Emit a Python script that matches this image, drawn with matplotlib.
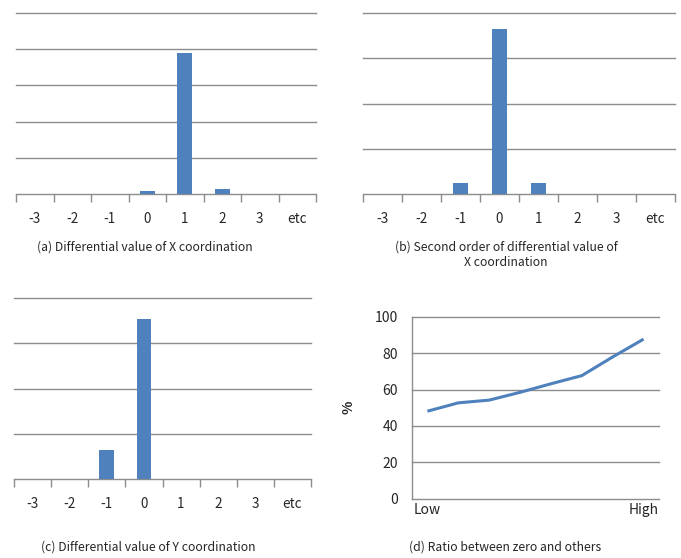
import numpy as np
import matplotlib
matplotlib.use("Agg")
import matplotlib.pyplot as plt
from matplotlib.ticker import FixedLocator

plt.rcParams['font.family'] = ['Noto Sans CJK KR', 'DejaVu Sans']

# Category axis shared by the three histograms
categories = ["-3", "-2", "-1", "0", "1", "2", "3", "etc"]

# (a) differential value of X coordination (percent)
diff_x = [0, 0, 0, 1.8, 78, 2.6, 0, 0]
# (b) second order differential value of X coordination (percent)
diff2_x = [0, 0, 4.7, 72.9, 4.7, 0, 0, 0]
# (c) differential value of Y coordination (percent)
diff_y = [0, 0, 12.7, 70.7, 0, 0, 0, 0]

# (d) ratio between zero and others (percent)
ratio_levels = ["Low", "", "", "", "", "", "", "High"]
ratio_values = [48.1, 52.7, 54.2, 58.5, 63.2, 67.7, 78.0, 87.8]

W, H = 681, 558
BLUE = "#4F81BD"
GRID = "#8C8C8C"
TEXT = "#262626"
FS = 8.8

fig = plt.figure(figsize=(W / 100, H / 100), dpi=100)


def px_axes(l, t, r, b):
    return fig.add_axes([l / W, 1 - b / H, (r - l) / W, (b - t) / H])


def bar_panel(box, values, ymax, step):
    ax = px_axes(*box)
    x = np.arange(len(categories))
    ax.bar(x, values, width=0.4, color=BLUE, zorder=3)
    ax.set_xlim(-0.5, len(categories) - 0.5)
    ax.set_ylim(0, ymax)
    for v in np.arange(step, ymax + step / 2, step):
        ax.axhline(v, color=GRID, lw=1.0, clip_on=False, zorder=1)
    for s in ("top", "right", "left"):
        ax.spines[s].set_visible(False)
    ax.spines["bottom"].set_color(GRID)
    ax.spines["bottom"].set_linewidth(1.0)
    ax.set_yticks([])
    ax.set_xticks(x)
    ax.set_xticklabels(categories, fontsize=9.7, color=TEXT)
    ax.xaxis.set_minor_locator(FixedLocator(np.arange(-0.5, len(categories), 1.0)))
    ax.tick_params(axis="x", which="major", length=0, pad=13)
    ax.tick_params(axis="x", which="minor", length=6, width=1.0, color=GRID,
                   direction="out")
    ax.set_facecolor("none")
    return ax


bar_panel((16, 13, 316, 194), diff_x, 100, 20)
bar_panel((363, 13, 675, 194), diff2_x, 80, 20)
bar_panel((14, 298, 311, 479), diff_y, 80, 20)

# (d) line chart
ax = px_axes(412, 317, 659, 498.5)
xi = np.arange(len(ratio_values))
ax.plot(xi, ratio_values, color=BLUE, lw=2.2, solid_capstyle="butt", zorder=3)
ax.set_xlim(-0.5, len(ratio_values) - 0.5)
ax.set_ylim(0, 100)
ax.set_yticks(np.arange(0, 101, 20))
ax.set_yticklabels([str(v) for v in range(0, 101, 20)], fontsize=10, color=TEXT)
for v in range(20, 101, 20):
    ax.axhline(v, color=GRID, lw=1.0, clip_on=False, zorder=1)
for s in ("top", "right"):
    ax.spines[s].set_visible(False)
for s in ("left", "bottom"):
    ax.spines[s].set_color(GRID)
    ax.spines[s].set_linewidth(1.0)
ax.tick_params(axis="y", length=0, pad=10)
ax.set_xticks(xi)
ax.set_xticklabels(ratio_levels, fontsize=10, color=TEXT)
ax.tick_params(axis="x", length=0, pad=3)
ax.set_ylabel("%", fontsize=10, color=TEXT, labelpad=14, fontweight="bold")

# Panel captions
fig.text(145 / W, 1 - 246.7 / H, "(a) Differential value of X coordination",
         ha="center", va="center", fontsize=FS, color=TEXT)
fig.text(506 / W, 1 - 255 / H, "(b) Second order of differential value of\nX coordination",
         ha="center", va="center", fontsize=FS, color=TEXT, linespacing=1.3)
fig.text(148.5 / W, 1 - 546.7 / H, "(c) Differential value of Y coordination",
         ha="center", va="center", fontsize=FS, color=TEXT)
fig.text(505 / W, 1 - 546.7 / H, "(d) Ratio between zero and others",
         ha="center", va="center", fontsize=FS, color=TEXT)

fig.savefig("out.png", dpi=100, facecolor="white")
